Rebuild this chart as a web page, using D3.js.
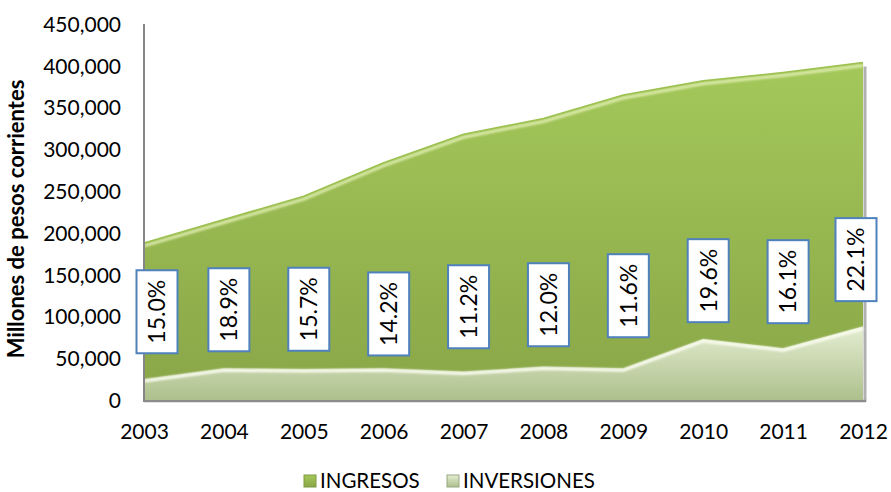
<!DOCTYPE html>
<meta charset="utf-8">
<html>
<head>
<style>
    body { margin: 0; background: #fff; }
    svg text { font-family: Lato, "Liberation Sans", sans-serif; fill: #000; }
    .axis path, .axis line { display: none; }
</style>
</head>
<body>
<svg width="891" height="492"></svg>
<script src="https://d3js.org/d3.v7.min.js"></script>
<script>

    var years = [2003, 2004, 2005, 2006, 2007, 2008, 2009, 2010, 2011, 2012];
    var ingresos = [188000, 216000, 244000, 284000, 318000, 337000, 365000, 382000, 392000, 404000];
    var inversiones = [25000, 38000, 37000, 38000, 34000, 40000, 38000, 73000, 62000, 88000];
    var shares = ["15.0%", "18.9%", "15.7%", "14.2%", "11.2%", "12.0%", "11.6%", "19.6%", "16.1%", "22.1%"];
    // where the excel label boxes sit (in axis units)
    var labelAt = [105600, 108000, 108600, 103000, 111600, 114000, 124800, 142800, 141600, 168000];
    var yTicks = [0, 50000, 100000, 150000, 200000, 250000, 300000, 350000, 400000, 450000];

    var svg = d3.select("svg");
    var pLeft = 144, pRight = 863, pTop = 24, pBottom = 400;

    var x = d3.scalePoint().domain(years).range([pLeft, pRight]);
    var y = d3.scaleLinear().domain([0, 450000]).range([pBottom, pTop]);

    var defs = svg.append("defs");
    var g1 = defs.append("linearGradient").attr("id", "gIng").attr("x1", 0).attr("y1", 0).attr("x2", 0).attr("y2", 1);
    g1.append("stop").attr("offset", "0%").attr("stop-color", "#a4c85a");
    g1.append("stop").attr("offset", "100%").attr("stop-color", "#89a647");
    var g2 = defs.append("linearGradient").attr("id", "gInv").attr("x1", 0).attr("y1", 0).attr("x2", 0).attr("y2", 1);
    g2.append("stop").attr("offset", "0%").attr("stop-color", "#e4edd2");
    g2.append("stop").attr("offset", "100%").attr("stop-color", "#adc08c");
    var blur = defs.append("filter").attr("id", "soft");
    blur.append("feGaussianBlur").attr("stdDeviation", 1.2);

    // frame shadow right + bottom
    svg.append("line").attr("x1", pRight + 2).attr("x2", pRight + 2).attr("y1", y(ingresos[9]) + 4).attr("y2", pBottom + 2)
        .attr("stroke", "#b0b0b0").attr("stroke-width", 3);
    svg.append("line").attr("x1", pLeft).attr("x2", pRight + 3).attr("y1", pBottom + 1).attr("y2", pBottom + 1)
        .attr("stroke", "#8c8c8c").attr("stroke-width", 2.5);

    var areaIng = d3.area().x((d, i) => x(years[i])).y0(y(0)).y1(d => y(d));
    var lineTop = d3.line().x((d, i) => x(years[i])).y(d => y(d));

    svg.append("path").datum(ingresos).attr("d", areaIng).attr("fill", "url(#gIng)");
    svg.append("path").datum(ingresos).attr("d", d3.line().x((d, i) => x(years[i])).y(d => y(d) + 3))
        .attr("fill", "none").attr("stroke", "#dcebaa").attr("stroke-width", 3).attr("filter", "url(#soft)");
    svg.append("path").datum(ingresos).attr("d", lineTop)
        .attr("fill", "none").attr("stroke", "#9cc150").attr("stroke-width", 1.5);

    svg.append("path").datum(inversiones).attr("d", areaIng).attr("fill", "url(#gInv)");
    svg.append("path").datum(inversiones).attr("d", d3.line().x((d, i) => x(years[i])).y(d => y(d) + 2))
        .attr("fill", "none").attr("stroke", "#fbfdf0").attr("stroke-width", 3).attr("filter", "url(#soft)");

    // y axis line
    svg.append("line").attr("x1", pLeft).attr("x2", pLeft).attr("y1", pTop).attr("y2", pBottom + 2)
        .attr("stroke", "#868686").attr("stroke-width", 2);

    var yAxis = svg.append("g").attr("class", "axis").attr("transform", "translate(" + (pLeft - 23) + ",0)")
        .call(d3.axisLeft(y).tickValues(yTicks).tickSize(0).tickFormat(d3.format(",")));
    yAxis.selectAll("text").attr("font-size", 21).attr("dy", "0.35em").attr("x", 0);

    var xAxis = svg.append("g").attr("class", "axis").attr("transform", "translate(0," + (pBottom + 24) + ")")
        .call(d3.axisBottom(x).tickSize(0).tickFormat(d => d));
    xAxis.selectAll("text").attr("font-size", 21).attr("dy", "0.71em").attr("y", 0);

    svg.append("text").attr("transform", "translate(24,219) rotate(-90)")
        .attr("text-anchor", "middle").attr("font-size", 22).attr("font-weight", "bold")
        .text("Millones de pesos corrientes");

    // share labels
    var bw = 41, bh = 83;
    var lab = svg.append("g").selectAll("g").data(shares).enter().append("g")
        .attr("transform", (d, i) => {
            var cx = Math.max(pLeft + 13, Math.min(pRight - 7, x(years[i]) + 5));
            return "translate(" + cx + "," + y(labelAt[i]) + ")";
        });
    lab.append("rect").attr("x", -bw / 2).attr("y", -bh / 2).attr("width", bw).attr("height", bh)
        .attr("fill", "#fff").attr("stroke", "#4f81bd").attr("stroke-width", 2);
    lab.append("text").attr("transform", "rotate(-90)").attr("text-anchor", "middle")
        .attr("dy", "0.36em").attr("font-size", 23).text(d => d);

    // legend
    var legend = [["INGRESOS", "url(#gIng)", 304], ["INVERSIONES", "url(#gInv)", 447]];
    var lg = svg.append("g").selectAll("g").data(legend).enter().append("g")
        .attr("transform", d => "translate(" + d[2] + ",475)");
    lg.append("rect").attr("width", 12).attr("height", 12).attr("fill", d => d[1])
        .attr("stroke", d => d[0] == "INGRESOS" ? "#7e9b3e" : "#97a882").attr("stroke-width", 1);
    lg.append("text").attr("x", 16).attr("y", 6).attr("dy", "0.36em").attr("font-size", 20.5).text(d => d[0]);

</script>
</body>
</html>
